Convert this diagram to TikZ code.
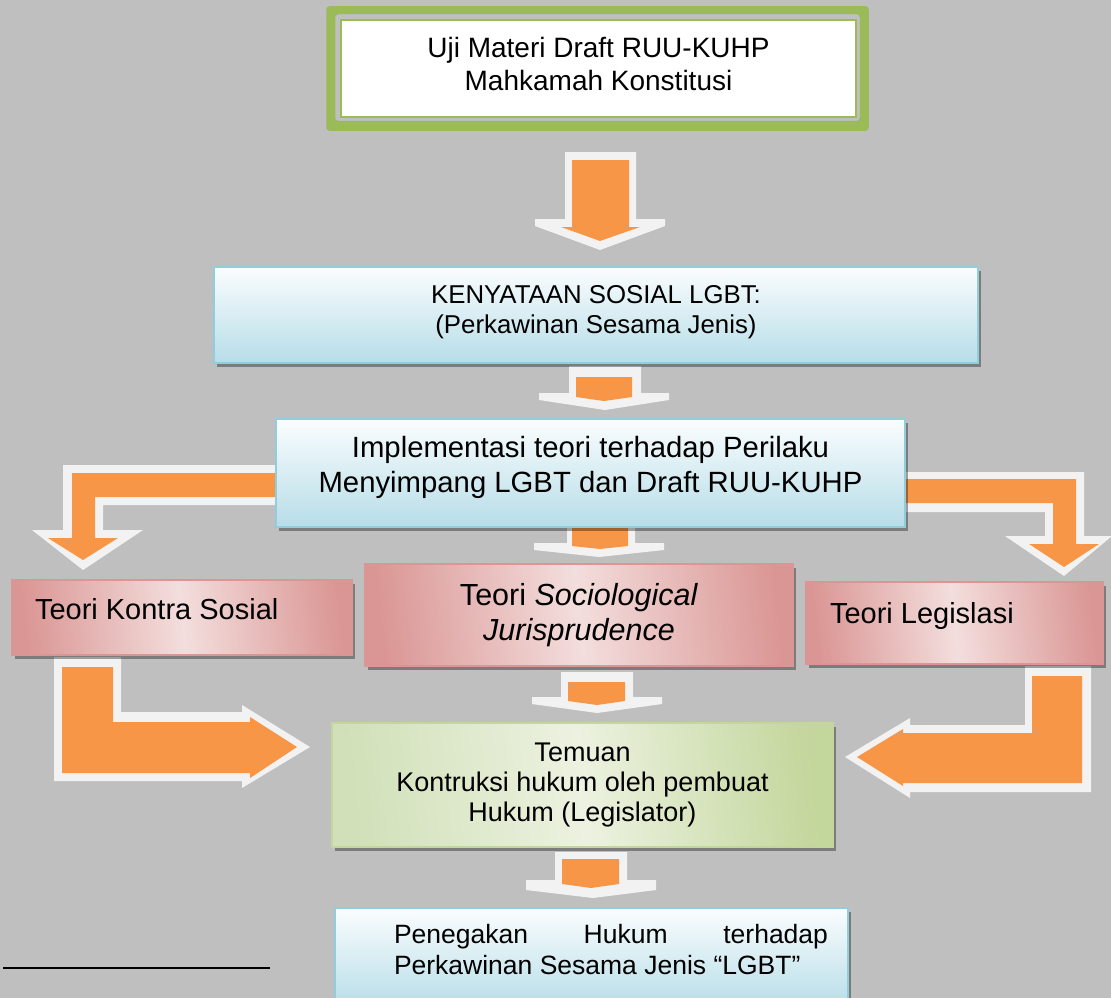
\documentclass[tikz,border=0pt]{standalone}
\usepackage{fontspec}
\setmainfont{Liberation Sans}
\usetikzlibrary{shadows,calc}

\definecolor{bggray}{RGB}{191,191,191}
\definecolor{arrorange}{RGB}{247,150,70}
\definecolor{arrwhite}{RGB}{242,242,242}
\definecolor{bluetop}{RGB}{250,253,254}
\definecolor{bluebot}{RGB}{183,221,232}
\definecolor{blueline}{RGB}{146,205,220}
\definecolor{reddark}{RGB}{218,150,148}
\definecolor{redlight}{RGB}{243,222,221}
\definecolor{greenleft}{RGB}{209,224,184}
\definecolor{greendark}{RGB}{195,214,155}
\definecolor{greenlight}{RGB}{236,242,224}
\definecolor{ujigreen}{RGB}{155,187,89}

\begin{document}
\begin{tikzpicture}[x=1pt, y=-1pt,
  box/.style={rectangle, inner sep=0pt, line width=1.5pt, align=center,
    drop shadow={shadow xshift=3pt, shadow yshift=-4pt, fill=black, opacity=0.35}},
  ujibox/.style={rectangle, inner sep=0pt, draw=ujigreen, line width=1.5pt,
    fill=white, align=center},
  bluebox/.style={box, draw=blueline, top color=bluetop, bottom color=bluebot},
  redbox/.style={box, draw=reddark, left color=reddark, right color=reddark,
    middle color=redlight, shading angle=96},
  greenbox/.style={box, draw=greendark, left color=greenleft, right color=greendark,
    middle color=greenlight, shading angle=96}]

  \useasboundingbox (0,0) rectangle (1111,998);
  \clip (0,0) rectangle (1111,998);
  \fill[bggray] (0,0) rectangle (1111,998);

  % Straight arrows
  \fill[arrwhite] (565,152) -- (636,152) -- (636,219) -- (665,219) -- (665,226) -- (600,250) -- (535,226) -- (535,219) -- (565,219) -- cycle;
  \fill[arrorange] (572,160) -- (629,160) -- (629,227) -- (640,227) -- (600,241) -- (561,227) -- (572,227) -- cycle;

  \fill[arrwhite] (569,366) -- (641,366) -- (641,393) -- (669,393) -- (669,400) -- (605,410) -- (539,400) -- (539,393) -- (569,393) -- cycle;
  \fill[arrorange] (576,377) -- (632,377) -- (632,397) -- (604,401) -- (576,397) -- cycle;

  \fill[arrwhite] (567,528) -- (635,528) -- (635,543) -- (664,543) -- (664,550) -- (599,557) -- (534,550) -- (534,543) -- (567,543) -- cycle;
  \fill[arrorange] (572,528) -- (628,528) -- (628,546) -- (600,549) -- (572,546) -- cycle;

  \fill[arrwhite] (561,672) -- (633,672) -- (633,697) -- (662,697) -- (662,704) -- (597,713) -- (532,704) -- (532,697) -- (561,697) -- cycle;
  \fill[arrorange] (568,682) -- (625,682) -- (625,701) -- (597,705) -- (568,701) -- cycle;

  \fill[arrwhite] (555,852) -- (627,852) -- (627,880) -- (656,880) -- (656,890) -- (593,898) -- (526,890) -- (526,880) -- (555,880) -- cycle;
  \fill[arrorange] (562,859) -- (619,859) -- (619,884) -- (591,888) -- (562,884) -- cycle;

  % Bent arrows
  \fill[arrwhite] (276,465) -- (63,465) -- (63,530) -- (32,530) -- (83,570) -- (143,530) -- (103,530) -- (103,505) -- (276,505) -- cycle;
  \fill[arrorange] (276,473) -- (72,473) -- (72,538) -- (48,538) -- (83,560) -- (118,538) -- (95,538) -- (95,497) -- (276,497) -- cycle;

  \fill[arrwhite] (905,472) -- (1084,472) -- (1084,536) -- (1112,536) -- (1064,576) -- (1005,536) -- (1045,536) -- (1045,512) -- (905,512) -- cycle;
  \fill[arrorange] (905,479) -- (1076,479) -- (1076,544) -- (1099,544) -- (1064,567) -- (1029,544) -- (1053,544) -- (1053,503) -- (905,503) -- cycle;

  \fill[arrwhite] (54,657) -- (121,657) -- (121,712) -- (242,712) -- (242,705) -- (310,747) -- (242,788) -- (242,781) -- (54,781) -- cycle;
  \fill[arrorange] (62,667) -- (113,667) -- (113,722) -- (250,722) -- (250,717) -- (297,747) -- (250,778) -- (250,773) -- (62,773) -- cycle;

  \fill[arrwhite] (1091,666) -- (1091,792) -- (910,792) -- (910,798) -- (845,757) -- (910,718) -- (910,725) -- (1025,725) -- (1025,666) -- cycle;
  \fill[arrorange] (1082,676) -- (1082,783) -- (903,783) -- (903,786) -- (857,757) -- (903,729) -- (903,733) -- (1032,733) -- (1032,676) -- cycle;

  % Boxes
  \node[ujibox, minimum width=515pt, minimum height=97pt,
    font=\fontsize{28}{33}\selectfont, text depth=10pt] (uji) at (598.5,68.5)
    {Uji Materi Draft RUU-KUHP\\Mahkamah Konstitusi};
  \fill[ujigreen, even odd rule, rounded corners=3pt]
    ($(uji.north west)+(-14,-13)$) rectangle ($(uji.south east)+(12,13)$)
    ($(uji.north west)+(-5,-5)$) rectangle ($(uji.south east)+(3,3)$);

  \node[bluebox, minimum width=764pt, minimum height=96pt,
    font=\fontsize{25.8}{30}\selectfont, text depth=12pt] (kenyataan) at (596,315)
    {KENYATAAN SOSIAL LGBT:\\(Perkawinan Sesama Jenis)};

  \node[bluebox, minimum width=629pt, minimum height=108pt,
    font=\fontsize{29.3}{35}\selectfont, text depth=18pt] (implementasi) at (590.5,473)
    {Implementasi teori terhadap Perilaku\\Menyimpang LGBT dan Draft RUU-KUHP};

  \node[redbox, minimum width=340pt, minimum height=75pt,
    font=\fontsize{29}{35}\selectfont, text height=21pt, text depth=18pt] (kontra) at (182,617.5)
    {\makebox[294pt][l]{Teori Kontra Sosial}};

  \node[redbox, minimum width=428pt, minimum height=102pt,
    font=\fontsize{30.5}{35}\selectfont] (sociological) at (579,615)
    {Teori \textit{Sociological}\\\textit{Jurisprudence}};

  \node[redbox, minimum width=297pt, minimum height=82pt,
    font=\fontsize{29}{35}\selectfont, text height=21pt, text depth=21pt] (legislasi) at (954.5,623)
    {\makebox[249pt][l]{Teori Legislasi}};

  \node[greenbox, minimum width=501pt, minimum height=124pt,
    font=\fontsize{27}{30}\selectfont] (temuan) at (582.5,785)
    {Temuan\\Kontruksi hukum oleh pembuat\\Hukum (Legislator)};

  \node[bluebox, minimum width=513pt, minimum height=100pt, align=left,
    font=\fontsize{26.5}{31}\selectfont, text depth=17pt] (penegakan) at (591.5,958)
    {\hspace*{39pt}\makebox[434pt][s]{Penegakan\hfill Hukum\hfill terhadap}\\
     \hspace*{39pt}\makebox[434pt][l]{Perkawinan Sesama Jenis “LGBT”}};

  % Footnote rule
  \draw[line width=2pt] (3,968) -- (270,968);
\end{tikzpicture}
\end{document}
